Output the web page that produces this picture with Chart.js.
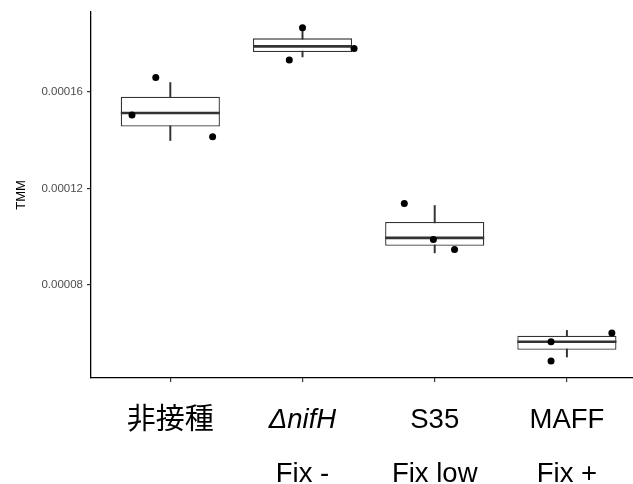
<!DOCTYPE html>
<html>
<head>
<meta charset="utf-8">
<script src="https://cdn.jsdelivr.net/npm/chart.js@4"></script>
<style>
  html, body { margin: 0; padding: 0; background: #fff; overflow: hidden; }
  #wrap { width: 633px; height: 484px; }
</style>
</head>
<body>
<div id="wrap"><canvas id="c" width="633" height="484"></canvas></div>
<script>
// ---- data ----
const categories = ['非接種', 'ΔnifH', 'S35', 'MAFF'];
const fixLabels = ['', 'Fix -', 'Fix low', 'Fix +'];
const positions = [1, 2, 3, 4];
const whiskerLow  = [0.0001398, 0.0001744, 0.0000933, 0.0000502];
const q1          = [0.0001456, 0.0001764, 0.0000962, 0.0000532];
const medians     = [0.0001512, 0.0001788, 0.0000995, 0.0000565];
const q3          = [0.0001579, 0.0001821, 0.0001061, 0.0000590];
const whiskerHigh = [0.0001638, 0.0001863, 0.0001129, 0.0000612];
// jittered observations (x position, TMM)
const pointX = [0.89, 0.71, 1.32, 2.00, 1.90, 2.39, 2.77, 2.99, 3.15, 4.34, 3.88, 3.88];
const pointY = [0.0001659, 0.0001504, 0.0001414,
                0.0001865, 0.0001731, 0.0001779,
                0.0001137, 0.0000988, 0.0000947,
                0.0000601, 0.0000565, 0.0000485];
const yTicks = [0.00008, 0.00012, 0.00016];
const yTickLabels = ['0.00008', '0.00012', '0.00016'];

// ---- build ----
const FONT = "'Liberation Sans', Arial, 'Noto Sans CJK JP', sans-serif";
const whiskerData = positions.map((p, i) => ({ x: p, y: [whiskerLow[i], whiskerHigh[i]] }));
const boxData = positions.map((p, i) => ({ x: p, y: [q1[i], q3[i]] }));
const medianData = positions.map((p, i) => ({ x: p, y: medians[i] }));
const pointData = pointX.map((x, i) => ({ x: x, y: pointY[i] }));

new Chart(document.getElementById('c'), {
  type: 'bar',
  data: {
    datasets: [
      { type: 'scatter', data: pointData, order: 0, clip: false,
        backgroundColor: '#000', borderColor: '#000', pointRadius: 3.5, borderWidth: 0 },
      { type: 'scatter', data: medianData, order: 1, clip: false,
        pointStyle: 'line', pointRadius: 49.5, borderWidth: 2.7, borderColor: '#333', backgroundColor: '#333' },
      { type: 'bar', data: boxData, order: 2, grouped: false,
        backgroundColor: '#fff', borderColor: '#333', borderWidth: 1.3, borderSkipped: false,
        categoryPercentage: 1, barPercentage: 0.75 },
      { type: 'bar', data: whiskerData, order: 3, grouped: false,
        backgroundColor: '#333', borderWidth: 0, barThickness: 1.3 }
    ]
  },
  options: {
    responsive: false,
    animation: false,
    events: [],
    layout: { autoPadding: false, padding: { top: 12, left: 0, right: 0, bottom: 0 } },
    plugins: { legend: { display: false }, tooltip: { enabled: false } },
    scales: {
      x: {
        type: 'linear', position: 'bottom', min: 0.4, max: 4.5, offset: false,
        afterBuildTicks: s => { s.ticks = positions.map(v => ({ value: v })); },
        afterFit: s => { s.height = 56; s.paddingLeft = 0; s.paddingRight = 0; },
        grid: { display: true, drawOnChartArea: false, drawTicks: true, tickLength: 4, color: '#333', lineWidth: 1.2, offset: false },
        border: { display: true, color: '#000', width: 1.3 },
        ticks: {
          autoSkip: false, maxRotation: 0, padding: 22, color: '#000',
          callback: (v, i) => categories[i],
          font: ctx => ({ family: FONT, size: ctx.index === 0 ? 29 : 27.5, style: ctx.index === 1 ? 'italic' : 'normal' })
        }
      },
      x2: {
        type: 'linear', position: 'bottom', min: 0.4, max: 4.5, offset: false,
        afterBuildTicks: s => { s.ticks = positions.map(v => ({ value: v })); },
        afterFit: s => { s.height = 50; s.paddingLeft = 0; s.paddingRight = 0; },
        grid: { display: false, drawTicks: false },
        border: { display: false },
        ticks: {
          autoSkip: false, maxRotation: 0, padding: 24, color: '#000',
          callback: (v, i) => fixLabels[i],
          font: { family: FONT, size: 27.5 }
        }
      },
      y: {
        type: 'linear', min: 0.0000415, max: 0.000193,
        afterBuildTicks: s => { s.ticks = yTicks.map(v => ({ value: v })); },
        afterFit: s => { s.width = 91; s.paddingTop = 0; s.paddingBottom = 0; },
        grid: { display: true, drawOnChartArea: false, drawTicks: true, tickLength: 4, color: '#333', lineWidth: 1.2 },
        border: { display: true, color: '#000', width: 1.3 },
        ticks: {
          padding: 4, color: '#4d4d4d',
          font: { family: FONT, size: 11.5 },
          callback: (v, i) => yTickLabels[i]
        },
        title: { display: true, text: 'TMM', color: '#000', font: { family: FONT, size: 13 }, padding: { top: 14, bottom: 0 } }
      }
    }
  }
});
</script>
</body>
</html>
